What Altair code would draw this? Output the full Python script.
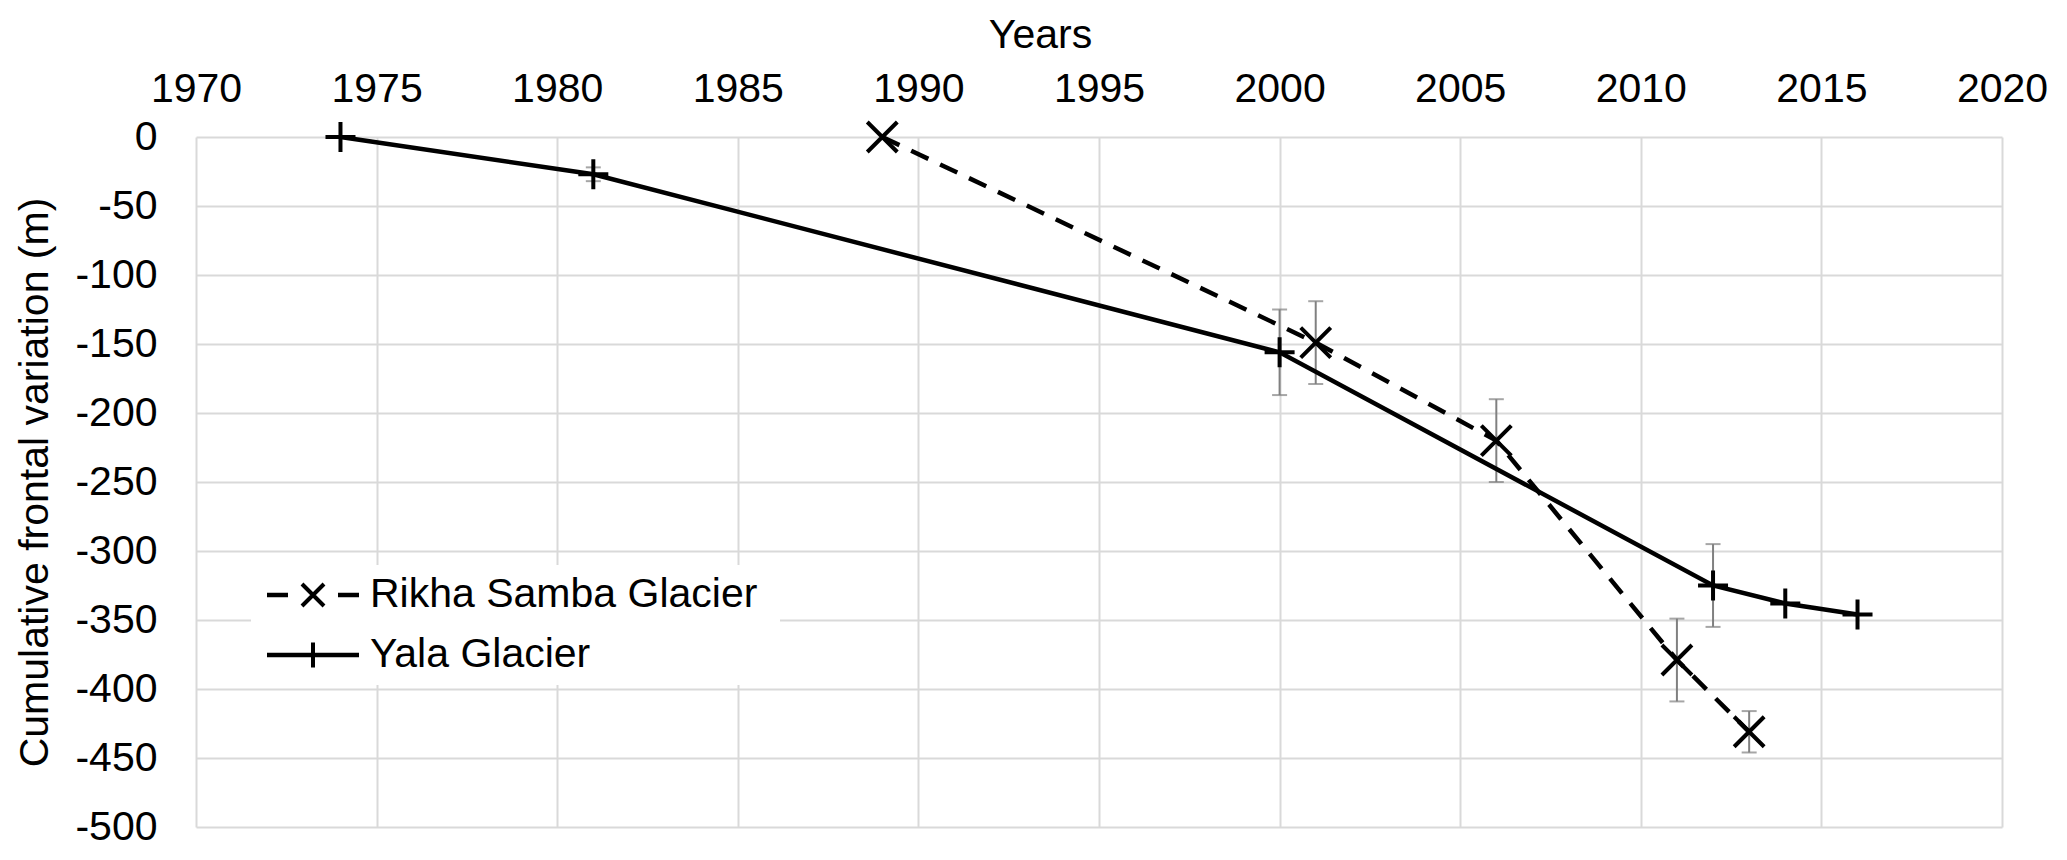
import altair as alt
import pandas as pd

# ---- data ----
yala_years = [1974, 1981, 2000, 2012, 2014, 2016]
yala_values = [0, -27, -156, -325, -338, -346]

rikha_years = [1989, 2001, 2006, 2011, 2013]
rikha_values = [0, -149, -220, -379, -431]

yala_err_years = [1981, 2000, 2012]
yala_err_center = [-27, -156, -325]
yala_err_size = [5, 31, 30]

rikha_err_years = [2001, 2006, 2011, 2013]
rikha_err_center = [-149, -220, -379, -431]
rikha_err_size = [30, 30, 30, 15]

x_ticks = list(range(1970, 2021, 5))
y_ticks = list(range(-500, 1, 50))

FONT = "Liberation Sans"
FS = 41
GRID = "#d9d9d9"
ERR = "#808080"

yala_df = pd.DataFrame({"year": yala_years, "value": yala_values})
rikha_df = pd.DataFrame({"year": rikha_years, "value": rikha_values})
err_df = pd.DataFrame({
    "year": yala_err_years + rikha_err_years,
    "lo": [c - e for c, e in zip(yala_err_center, yala_err_size)]
    + [c - e for c, e in zip(rikha_err_center, rikha_err_size)],
    "hi": [c + e for c, e in zip(yala_err_center, yala_err_size)]
    + [c + e for c, e in zip(rikha_err_center, rikha_err_size)],
})

x_axis = alt.Axis(
    orient="top", values=x_ticks, format="d", labelFontSize=FS, labelFont=FONT,
    labelColor="black", labelBaseline="alphabetic", labelPadding=36,
    ticks=False, tickSize=0, domain=False, grid=True, gridColor=GRID, gridWidth=2,
    labelFlush=False, labelOverlap=False,
    title="Years", titleFont=FONT, titleFontSize=FS, titleFontWeight="normal",
    titleColor="black", titleX=844, titleY=-90, titleBaseline="alphabetic",
    titleAlign="center",
)
y_axis = alt.Axis(
    orient="left", values=y_ticks, labelExpr="'' + datum.value",
    labelFontSize=FS, labelFont=FONT, labelColor="black", labelAlign="right",
    labelBaseline="middle", labelPadding=39, ticks=False, tickSize=0,
    domain=False, grid=True, gridColor=GRID, gridWidth=2, labelFlush=False,
    labelOverlap=False,
    title="Cumulative frontal variation (m)", titleFont=FONT, titleFontSize=FS,
    titleFontWeight="normal", titleColor="black", titleX=-149, titleY=345,
    titleAngle=270, titleBaseline="alphabetic", titleAlign="center",
)
x_scale = alt.Scale(domain=[1970, 2020], nice=False)
y_scale = alt.Scale(domain=[-500, 0], nice=False)


def X(field="year"):
    return alt.X(f"{field}:Q", scale=x_scale, axis=x_axis)


def Y(field="value"):
    return alt.Y(f"{field}:Q", scale=y_scale, axis=y_axis)


PLUS = "M-1,0L1,0M0,-1L0,1"
CROSS = "M-1,-1L1,1M-1,1L1,-1"

err_rule = alt.Chart(err_df).mark_rule(color=ERR, strokeWidth=2).encode(
    x=X(), y=Y("lo"), y2="hi")
err_cap_lo = alt.Chart(err_df).mark_tick(
    orient="horizontal", size=15, thickness=2, color=ERR).encode(x=X(), y=Y("lo"))
err_cap_hi = alt.Chart(err_df).mark_tick(
    orient="horizontal", size=15, thickness=2, color=ERR).encode(x=X(), y=Y("hi"))

rikha_line = alt.Chart(rikha_df).mark_line(
    color="black", strokeWidth=4.5, strokeDash=[19, 13], interpolate="linear"
).encode(x=X(), y=Y())
yala_line = alt.Chart(yala_df).mark_line(
    color="black", strokeWidth=4.5, interpolate="linear"
).encode(x=X(), y=Y())

rikha_pts = alt.Chart(rikha_df).mark_point(
    shape=CROSS, size=900, filled=False, color="black", strokeWidth=4, opacity=1
).encode(x=X(), y=Y())
yala_pts = alt.Chart(yala_df).mark_point(
    shape=PLUS, size=900, filled=False, color="black", strokeWidth=4, opacity=1
).encode(x=X(), y=Y())

# ---- legend (drawn inside the plot) ----
one = pd.DataFrame({"a": [0]})
leg_bg = alt.Chart(one).mark_rect(color="white").encode(
    x=alt.value(55), x2=alt.value(584), y=alt.value(428), y2=alt.value(548))
leg_r1 = alt.Chart(one).mark_rule(color="black", strokeWidth=4.5).encode(
    x=alt.value(71), x2=alt.value(92), y=alt.value(458))
leg_r2 = alt.Chart(one).mark_rule(color="black", strokeWidth=4.5).encode(
    x=alt.value(142), x2=alt.value(163), y=alt.value(458))
leg_rpt = alt.Chart(one).mark_point(
    shape=CROSS, size=484, filled=False, color="black", strokeWidth=4, opacity=1
).encode(x=alt.value(117), y=alt.value(458))
leg_y = alt.Chart(one).mark_rule(color="black", strokeWidth=4.5).encode(
    x=alt.value(71), x2=alt.value(163), y=alt.value(518))
leg_ypt = alt.Chart(one).mark_point(
    shape=PLUS, size=625, filled=False, color="black", strokeWidth=4, opacity=1
).encode(x=alt.value(117), y=alt.value(518))
leg_t1 = alt.Chart(one).mark_text(
    align="left", baseline="middle", font=FONT, fontSize=FS, color="black"
).encode(x=alt.value(174), y=alt.value(458), text=alt.value("Rikha Samba Glacier"))
leg_t2 = alt.Chart(one).mark_text(
    align="left", baseline="middle", font=FONT, fontSize=FS, color="black"
).encode(x=alt.value(174), y=alt.value(518), text=alt.value("Yala Glacier"))

chart = alt.layer(
    err_rule, err_cap_lo, err_cap_hi,
    rikha_line, yala_line, rikha_pts, yala_pts,
    leg_bg, leg_r1, leg_r2, leg_rpt, leg_y, leg_ypt, leg_t1, leg_t2,
).properties(
    width=1806, height=690,
    autosize=alt.AutoSizeParams(type="none"),
    padding={"left": 188, "top": 129, "right": 57, "bottom": 25},
    background="white",
).configure_view(stroke=None)

chart.save("out.html", embed_options={"renderer": "svg", "actions": False})
